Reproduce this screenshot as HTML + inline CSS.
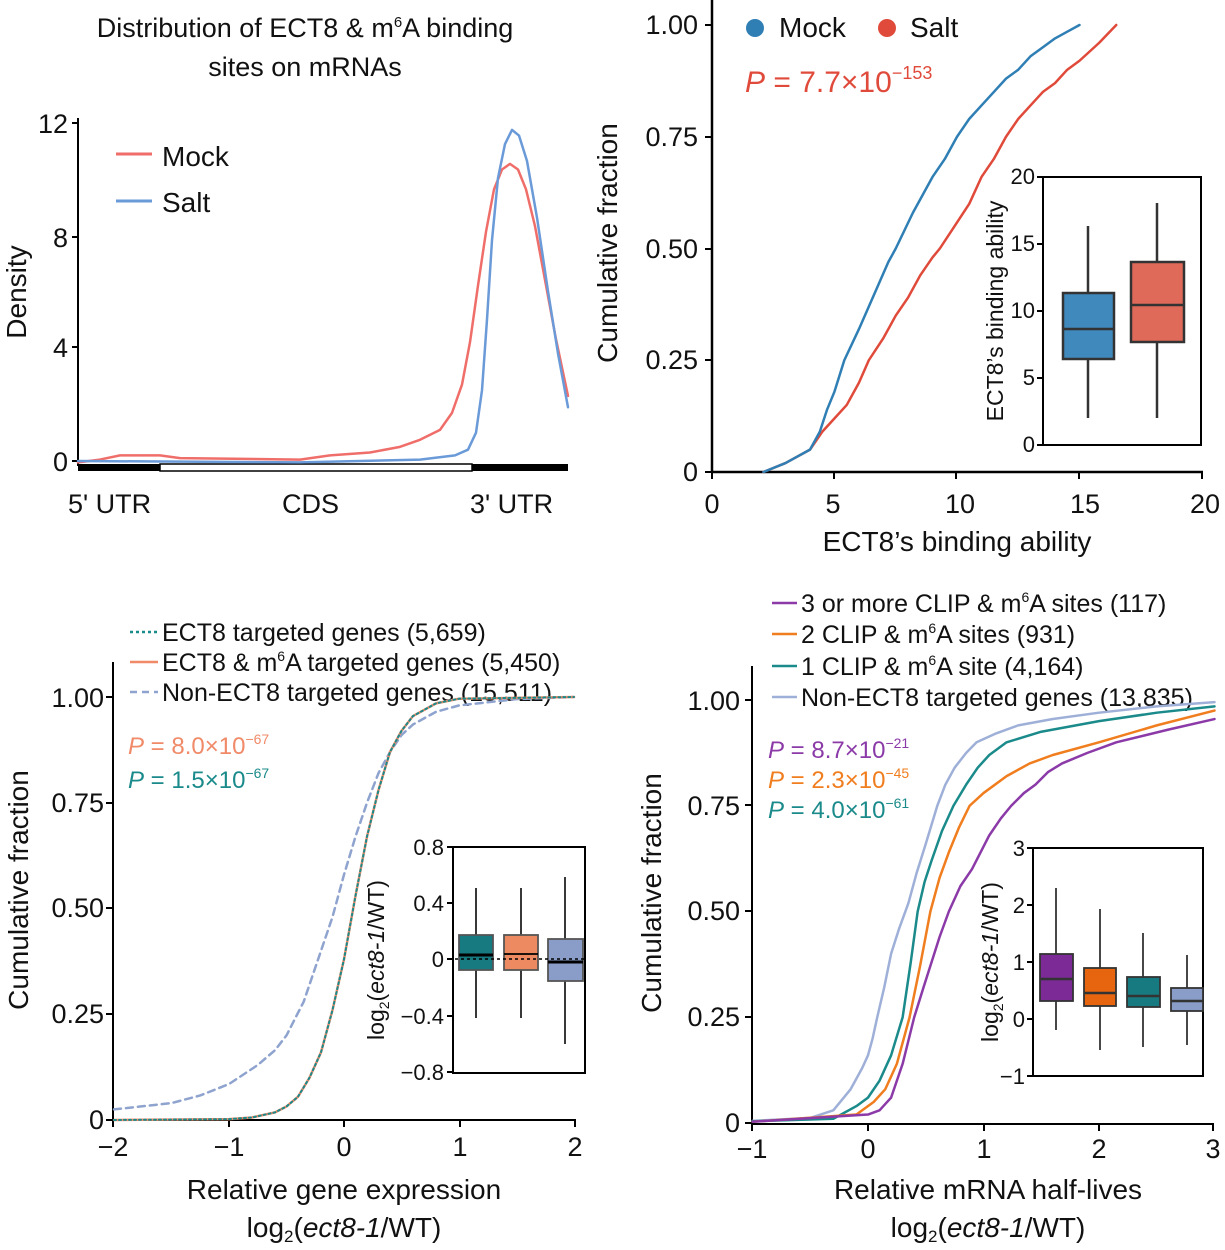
<!DOCTYPE html>
<html><head><meta charset="utf-8"><style>
html,body{margin:0;padding:0;background:#fff}
svg{display:block}
text{font-family:"Liberation Sans",Arial,sans-serif;fill:#111}
.t{font-size:25px}
.nss{vector-effect:non-scaling-stroke;fill:none;stroke-linejoin:round;stroke-linecap:round}
</style></head><body>
<svg width="1225" height="1250" viewBox="0 0 1225 1250" xmlns="http://www.w3.org/2000/svg">
<!-- Panel A -->
<text x="305" y="37" text-anchor="middle" font-size="27">Distribution of ECT8 &amp; m<tspan font-size="15" dy="-10">6</tspan><tspan dy="10">A binding</tspan></text>
<text x="305" y="76" text-anchor="middle" font-size="27">sites on mRNAs</text>
<line x1="78" y1="118" x2="78" y2="466" stroke="#000" stroke-width="2"/>
<g stroke="#000" stroke-width="2">
<line x1="72" y1="123" x2="78" y2="123"/><line x1="72" y1="237" x2="78" y2="237"/><line x1="72" y1="347" x2="78" y2="347"/><line x1="72" y1="461" x2="78" y2="461"/></g>
<g font-size="27" text-anchor="end"><text x="68" y="133">12</text><text x="68" y="247">8</text><text x="68" y="357">4</text><text x="68" y="471">0</text></g>
<text transform="translate(26,292) rotate(-90)" text-anchor="middle" font-size="28">Density</text>
<rect x="78" y="464" width="490" height="7" fill="#000"/>
<rect x="160" y="464" width="312" height="7" fill="#fff" stroke="#000" stroke-width="1.5"/>
<g font-size="27"><text x="68" y="513">5' UTR</text><text x="282" y="513">CDS</text><text x="470" y="513">3' UTR</text></g>
<line x1="116" y1="154" x2="152" y2="154" stroke="#ef6e6a" stroke-width="3"/>
<line x1="116" y1="201" x2="152" y2="201" stroke="#6a9ad8" stroke-width="3"/>
<text x="162" y="166" font-size="28">Mock</text><text x="162" y="212" font-size="28">Salt</text>
<g transform="translate(0,461) scale(1,-28.3)">
<polyline class="nss" stroke="#ef6e6a" stroke-width="2.5" points="78,-0.05 100,0.05 120,0.2 160,0.2 180,0.1 300,0.05 330,0.2 370,0.3 400,0.5 420,0.75 440,1.1 452,1.7 462,2.7 470,4.2 478,6.2 486,8.1 494,9.6 502,10.3 510,10.5 518,10.3 526,9.6 535,8.3 545,6.4 556,4.3 568,2.3"/>
<polyline class="nss" stroke="#6a9ad8" stroke-width="2.5" points="78,0 300,-0.05 420,0.05 455,0.2 468,0.4 476,1 482,2.5 487,5 492,7.8 498,10 505,11.2 512,11.7 519,11.5 527,10.6 537,8.6 548,6 558,3.8 568,1.9"/>
</g>
<!-- Panel B -->
<line x1="712" y1="0" x2="712" y2="472" stroke="#000" stroke-width="2.5"/>
<line x1="712" y1="472" x2="1203" y2="472" stroke="#000" stroke-width="2.5"/>
<g stroke="#000" stroke-width="2"><line x1="705" y1="25" x2="712" y2="25"/><line x1="705" y1="137" x2="712" y2="137"/><line x1="705" y1="249" x2="712" y2="249"/><line x1="705" y1="360" x2="712" y2="360"/><line x1="705" y1="472" x2="712" y2="472"/>
<line x1="712" y1="472" x2="712" y2="479"/><line x1="834" y1="472" x2="834" y2="479"/><line x1="956" y1="472" x2="956" y2="479"/><line x1="1079" y1="472" x2="1079" y2="479"/><line x1="1202" y1="472" x2="1202" y2="479"/></g>
<g font-size="27" text-anchor="end"><text x="698" y="34">1.00</text><text x="698" y="146">0.75</text><text x="698" y="258">0.50</text><text x="698" y="369">0.25</text><text x="698" y="481">0</text></g>
<g font-size="27" text-anchor="middle"><text x="712" y="513">0</text><text x="833" y="513">5</text><text x="960" y="513">10</text><text x="1085" y="513">15</text><text x="1205" y="513">20</text></g>
<text x="957" y="551" text-anchor="middle" font-size="28">ECT8’s binding ability</text>
<text transform="translate(617,243) rotate(-90)" text-anchor="middle" font-size="28">Cumulative fraction</text>
<circle cx="755" cy="28" r="9" fill="#2f7fb5"/><text x="779" y="37" font-size="28">Mock</text>
<circle cx="887" cy="28" r="9" fill="#e04a3a"/><text x="910" y="37" font-size="28">Salt</text>
<text x="745" y="92" font-size="30" style="fill:#e04a3a"><tspan font-style="italic">P</tspan> = 7.7×10<tspan font-size="18" dy="-13">−153</tspan></text>
<g transform="translate(712,472) scale(24.5,-447)">
<polyline class="nss" stroke="#e04a3a" stroke-width="2.5" points="2.1,0 3,0.02 4,0.05 4.5,0.09 5,0.12 5.5,0.15 6,0.2 6.4,0.25 7,0.3 7.5,0.35 8,0.39 8.5,0.44 9,0.48 9.3,0.5 9.9,0.55 10.5,0.6 11,0.66 11.5,0.7 12,0.75 12.5,0.79 13,0.82 13.5,0.85 14,0.87 14.5,0.9 15,0.92 15.8,0.96 16.5,1"/>
<polyline class="nss" stroke="#2f7fb5" stroke-width="2.5" points="2.1,0 3,0.02 4,0.05 4.4,0.09 4.7,0.14 5,0.18 5.4,0.25 6,0.32 6.4,0.37 6.8,0.42 7.2,0.47 7.5,0.5 8.2,0.58 8.6,0.62 9,0.66 9.5,0.7 10,0.75 10.5,0.79 11,0.82 11.5,0.85 12,0.88 12.5,0.9 13,0.93 13.5,0.95 14,0.97 14.5,0.985 15,1"/>
</g>
<rect x="1043" y="177" width="158" height="268" fill="#fff" stroke="#000" stroke-width="2"/>
<g stroke="#000" stroke-width="2"><line x1="1037" y1="177" x2="1043" y2="177"/><line x1="1037" y1="244" x2="1043" y2="244"/><line x1="1037" y1="311" x2="1043" y2="311"/><line x1="1037" y1="378" x2="1043" y2="378"/><line x1="1037" y1="445" x2="1043" y2="445"/></g>
<g font-size="22" text-anchor="end"><text x="1035" y="184">20</text><text x="1035" y="251">15</text><text x="1035" y="318">10</text><text x="1035" y="385">5</text><text x="1035" y="452">0</text></g>
<text transform="translate(1003,311) rotate(-90)" text-anchor="middle" font-size="23">ECT8’s binding ability</text>
<g stroke="#333" stroke-width="2.5">
<line x1="1088" y1="226" x2="1088" y2="418"/><rect x="1063" y="293" width="51" height="66" fill="#3f89bd"/><line x1="1063" y1="329" x2="1114" y2="329"/>
<line x1="1157" y1="203" x2="1157" y2="418"/><rect x="1131" y="262" width="53" height="80" fill="#e06a5a"/><line x1="1131" y1="305" x2="1184" y2="305"/>
</g>
<!-- Panel C -->
<line x1="113" y1="662" x2="113" y2="1120" stroke="#000" stroke-width="2"/>
<line x1="113" y1="1120" x2="576" y2="1120" stroke="#000" stroke-width="2"/>
<g stroke="#000" stroke-width="2"><line x1="106" y1="697" x2="113" y2="697"/><line x1="106" y1="803" x2="113" y2="803"/><line x1="106" y1="908" x2="113" y2="908"/><line x1="106" y1="1014" x2="113" y2="1014"/><line x1="106" y1="1120" x2="113" y2="1120"/>
<line x1="113" y1="1120" x2="113" y2="1127"/><line x1="229" y1="1120" x2="229" y2="1127"/><line x1="344" y1="1120" x2="344" y2="1127"/><line x1="460" y1="1120" x2="460" y2="1127"/><line x1="575" y1="1120" x2="575" y2="1127"/></g>
<g font-size="27" text-anchor="end"><text x="104" y="707">1.00</text><text x="104" y="812">0.75</text><text x="104" y="917">0.50</text><text x="104" y="1023">0.25</text><text x="104" y="1129">0</text></g>
<g font-size="27" text-anchor="middle"><text x="113" y="1156">−2</text><text x="229" y="1156">−1</text><text x="344" y="1156">0</text><text x="460" y="1156">1</text><text x="575" y="1156">2</text></g>
<text transform="translate(28,890) rotate(-90)" text-anchor="middle" font-size="28">Cumulative fraction</text>
<text x="344" y="1199" text-anchor="middle" font-size="28">Relative gene expression</text>
<text x="344" y="1237" text-anchor="middle" font-size="28">log<tspan font-size="17" dy="5">2</tspan><tspan dy="-5">(</tspan><tspan font-style="italic">ect8-1</tspan>/WT)</text>
<line x1="130" y1="632" x2="158" y2="632" stroke="#1b8a8a" stroke-width="2.5" stroke-dasharray="3,3"/>
<line x1="130" y1="662" x2="158" y2="662" stroke="#f08a68" stroke-width="2.5"/>
<line x1="130" y1="692" x2="158" y2="692" stroke="#8fa3cf" stroke-width="2.5" stroke-dasharray="7,5"/>
<g font-size="25"><text x="162" y="641">ECT8 targeted genes (5,659)</text><text x="162" y="671">ECT8 &amp; m<tspan font-size="14" dy="-10">6</tspan><tspan dy="10">A targeted genes (5,450)</tspan></text><text x="162" y="701">Non-ECT8 targeted genes (15,511)</text></g>
<text x="128" y="754" font-size="24" style="fill:#f08a68"><tspan font-style="italic">P</tspan> = 8.0×10<tspan font-size="14" dy="-10">−67</tspan></text>
<text x="128" y="788" font-size="24" style="fill:#1b8a8a"><tspan font-style="italic">P</tspan> = 1.5×10<tspan font-size="14" dy="-10">−67</tspan></text>
<g transform="translate(344,1120) scale(115,-423)">
<polyline class="nss" stroke="#8fa3cf" stroke-width="2.5" stroke-dasharray="7,5" points="-2,0.025 -1.5,0.04 -1.25,0.058 -1,0.085 -0.75,0.13 -0.6,0.165 -0.5,0.2 -0.35,0.28 -0.2,0.4 -0.1,0.48 0,0.58 0.1,0.67 0.2,0.75 0.3,0.82 0.4,0.87 0.5,0.91 0.6,0.935 0.8,0.965 1,0.98 1.5,0.995 2,1"/>
<polyline class="nss" stroke="#f08a68" stroke-width="2.5" points="-2,0 -1,0.002 -0.8,0.006 -0.6,0.018 -0.5,0.032 -0.4,0.055 -0.3,0.1 -0.2,0.16 -0.1,0.26 0,0.38 0.1,0.53 0.2,0.67 0.3,0.78 0.4,0.87 0.5,0.92 0.6,0.955 0.8,0.985 1,0.996 2,1"/>
<polyline class="nss" stroke="#1b8a8a" stroke-width="2" stroke-dasharray="2,3" points="-2,0 -1,0.002 -0.8,0.006 -0.6,0.018 -0.5,0.032 -0.4,0.055 -0.3,0.1 -0.2,0.16 -0.1,0.26 0,0.38 0.1,0.53 0.2,0.67 0.3,0.78 0.4,0.87 0.5,0.92 0.6,0.955 0.8,0.985 1,0.996 2,1"/>
</g>
<rect x="453" y="847" width="132" height="226" fill="#fff" stroke="#000" stroke-width="2"/>
<g stroke="#000" stroke-width="2"><line x1="447" y1="847" x2="453" y2="847"/><line x1="447" y1="903" x2="453" y2="903"/><line x1="447" y1="959" x2="453" y2="959"/><line x1="447" y1="1016" x2="453" y2="1016"/><line x1="447" y1="1072" x2="453" y2="1072"/></g>
<g font-size="22" text-anchor="end"><text x="444" y="855">0.8</text><text x="444" y="911">0.4</text><text x="444" y="967">0</text><text x="444" y="1024">−0.4</text><text x="444" y="1080">−0.8</text></g>
<text transform="translate(384,960) rotate(-90)" text-anchor="middle" font-size="23">log<tspan font-size="14" dy="5">2</tspan><tspan dy="-5">(</tspan><tspan font-style="italic">ect8-1</tspan>/WT)</text>
<g stroke="#222" stroke-width="1.8">
<line x1="476" y1="888" x2="476" y2="1018"/><rect x="459" y="935" width="34" height="35" fill="#177a80" stroke="#555"/><line x1="459" y1="955" x2="493" y2="955" stroke-width="3" stroke="#000"/>
<line x1="521" y1="888" x2="521" y2="1018"/><rect x="504" y="935" width="34" height="35" fill="#ee8a62" stroke="#555"/><line x1="504" y1="954" x2="538" y2="954" stroke="#000"/>
<line x1="565" y1="877" x2="565" y2="1044"/><rect x="548" y="939" width="35" height="42" fill="#8a9dc8" stroke="#555"/><line x1="548" y1="962" x2="583" y2="962" stroke-width="3" stroke="#000"/>
</g>
<line x1="455" y1="959" x2="584" y2="959" stroke="#000" stroke-width="1.5" stroke-dasharray="3,3"/>
<!-- Panel D -->
<line x1="752" y1="666" x2="752" y2="1124" stroke="#000" stroke-width="2"/>
<line x1="752" y1="1124" x2="1214" y2="1124" stroke="#000" stroke-width="2"/>
<g stroke="#000" stroke-width="2"><line x1="745" y1="700" x2="752" y2="700"/><line x1="745" y1="805" x2="752" y2="805"/><line x1="745" y1="911" x2="752" y2="911"/><line x1="745" y1="1017" x2="752" y2="1017"/><line x1="745" y1="1123" x2="752" y2="1123"/>
<line x1="752" y1="1124" x2="752" y2="1131"/><line x1="868" y1="1124" x2="868" y2="1131"/><line x1="984" y1="1124" x2="984" y2="1131"/><line x1="1099" y1="1124" x2="1099" y2="1131"/><line x1="1213" y1="1124" x2="1213" y2="1131"/></g>
<g font-size="27" text-anchor="end"><text x="740" y="710">1.00</text><text x="740" y="815">0.75</text><text x="740" y="920">0.50</text><text x="740" y="1026">0.25</text><text x="740" y="1132">0</text></g>
<g font-size="27" text-anchor="middle"><text x="752" y="1158">−1</text><text x="868" y="1158">0</text><text x="984" y="1158">1</text><text x="1099" y="1158">2</text><text x="1213" y="1158">3</text></g>
<text transform="translate(661,893) rotate(-90)" text-anchor="middle" font-size="28">Cumulative fraction</text>
<text x="988" y="1199" text-anchor="middle" font-size="28">Relative mRNA half-lives</text>
<text x="988" y="1237" text-anchor="middle" font-size="28">log<tspan font-size="17" dy="5">2</tspan><tspan dy="-5">(</tspan><tspan font-style="italic">ect8-1</tspan>/WT)</text>
<line x1="772" y1="603" x2="797" y2="603" stroke="#8b3aa8" stroke-width="2.5"/>
<line x1="772" y1="634" x2="797" y2="634" stroke="#f07d1e" stroke-width="2.5"/>
<line x1="772" y1="666" x2="797" y2="666" stroke="#1b8a8a" stroke-width="2.5"/>
<line x1="772" y1="697" x2="797" y2="697" stroke="#9fb0d8" stroke-width="2.5"/>
<g font-size="25"><text x="801" y="612">3 or more CLIP &amp; m<tspan font-size="14" dy="-10">6</tspan><tspan dy="10">A sites (117)</tspan></text><text x="801" y="643">2 CLIP &amp; m<tspan font-size="14" dy="-10">6</tspan><tspan dy="10">A sites (931)</tspan></text><text x="801" y="675">1 CLIP &amp; m<tspan font-size="14" dy="-10">6</tspan><tspan dy="10">A site (4,164)</tspan></text><text x="801" y="706">Non-ECT8 targeted genes (13,835)</text></g>
<text x="768" y="758" font-size="24" style="fill:#8b3aa8"><tspan font-style="italic">P</tspan> = 8.7×10<tspan font-size="14" dy="-10">−21</tspan></text>
<text x="768" y="788" font-size="24" style="fill:#f07d1e"><tspan font-style="italic">P</tspan> = 2.3×10<tspan font-size="14" dy="-10">−45</tspan></text>
<text x="768" y="818" font-size="24" style="fill:#1b8a8a"><tspan font-style="italic">P</tspan> = 4.0×10<tspan font-size="14" dy="-10">−61</tspan></text>
<g transform="translate(868,1123) scale(115.5,-423)">
<polyline class="nss" stroke="#9fb0d8" stroke-width="2.5" points="-1,0.005 -0.5,0.012 -0.3,0.03 -0.15,0.08 -0.05,0.13 0,0.16 0.04,0.2 0.08,0.25 0.14,0.32 0.2,0.4 0.27,0.46 0.35,0.52 0.42,0.59 0.5,0.66 0.6,0.75 0.67,0.8 0.75,0.84 0.85,0.875 0.94,0.9 1.1,0.92 1.3,0.94 1.6,0.955 2,0.97 2.5,0.985 3,0.995"/>
<polyline class="nss" stroke="#1b8a8a" stroke-width="2.5" points="-1,0.004 -0.3,0.01 -0.1,0.04 0,0.06 0.1,0.1 0.2,0.16 0.3,0.25 0.37,0.38 0.43,0.5 0.49,0.57 0.55,0.62 0.64,0.69 0.74,0.75 0.85,0.8 0.95,0.84 1.05,0.87 1.2,0.9 1.5,0.925 2,0.95 2.5,0.97 3,0.985"/>
<polyline class="nss" stroke="#f07d1e" stroke-width="2.5" points="-1,0.003 -0.1,0.02 0.05,0.05 0.15,0.08 0.25,0.14 0.36,0.25 0.45,0.37 0.54,0.5 0.62,0.58 0.7,0.64 0.79,0.7 0.88,0.75 1,0.78 1.2,0.82 1.4,0.85 1.6,0.87 2,0.9 2.5,0.94 3,0.975"/>
<polyline class="nss" stroke="#8b3aa8" stroke-width="2.5" points="-1,0.003 0,0.02 0.1,0.03 0.2,0.06 0.3,0.14 0.4,0.25 0.48,0.32 0.55,0.38 0.62,0.44 0.7,0.5 0.8,0.56 0.9,0.6 1.05,0.68 1.15,0.72 1.24,0.75 1.35,0.78 1.45,0.8 1.56,0.83 1.68,0.85 1.9,0.875 2.15,0.9 2.6,0.93 3,0.955"/>
</g>
<rect x="1033" y="848" width="170" height="228" fill="#fff" stroke="#000" stroke-width="2"/>
<g stroke="#000" stroke-width="2"><line x1="1027" y1="848" x2="1033" y2="848"/><line x1="1027" y1="905" x2="1033" y2="905"/><line x1="1027" y1="962" x2="1033" y2="962"/><line x1="1027" y1="1019" x2="1033" y2="1019"/><line x1="1027" y1="1076" x2="1033" y2="1076"/></g>
<g font-size="22" text-anchor="end"><text x="1025" y="856">3</text><text x="1025" y="913">2</text><text x="1025" y="970">1</text><text x="1025" y="1027">0</text><text x="1025" y="1084">−1</text></g>
<text transform="translate(998,962) rotate(-90)" text-anchor="middle" font-size="23">log<tspan font-size="14" dy="5">2</tspan><tspan dy="-5">(</tspan><tspan font-style="italic">ect8-1</tspan>/WT)</text>
<g stroke="#333" stroke-width="1.8">
<line x1="1056" y1="888" x2="1056" y2="1030"/><rect x="1040" y="954" width="33" height="47" fill="#7b2a96"/><line x1="1040" y1="979" x2="1073" y2="979" stroke-width="2.5"/>
<line x1="1100" y1="909" x2="1100" y2="1050"/><rect x="1084" y="968" width="32" height="38" fill="#e8650f"/><line x1="1084" y1="993" x2="1116" y2="993" stroke-width="2.5"/>
<line x1="1143" y1="933" x2="1143" y2="1047"/><rect x="1127" y="977" width="33" height="30" fill="#167a80"/><line x1="1127" y1="996" x2="1160" y2="996" stroke-width="2.5"/>
<line x1="1187" y1="955" x2="1187" y2="1045"/><rect x="1171" y="988" width="32" height="23" fill="#8a9dc8"/><line x1="1171" y1="1001" x2="1203" y2="1001" stroke-width="2.5"/>
</g>
</svg>
</body></html>
